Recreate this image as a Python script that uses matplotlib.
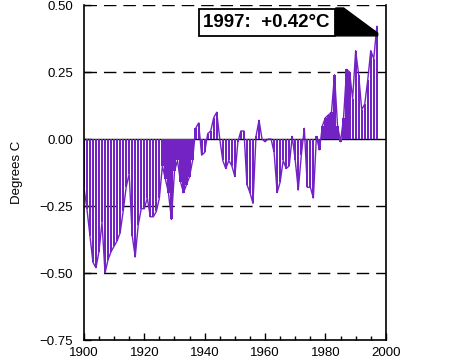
import matplotlib.pyplot as plt
from matplotlib.patches import Polygon
from matplotlib.ticker import MultipleLocator

# annual temperature anomaly (deg C)
years = list(range(1900, 1998))
anomaly = [
    -0.18, -0.26, -0.36, -0.46, -0.48, -0.42, -0.31, -0.50, -0.45, -0.42,  # 1900s
    -0.40, -0.38, -0.35, -0.27, -0.18, -0.13, -0.36, -0.44, -0.32, -0.26,  # 1910s
    -0.26, -0.22, -0.29, -0.29, -0.27, -0.22, -0.10, -0.15, -0.20, -0.30,  # 1920s
    -0.12, -0.08, -0.16, -0.20, -0.17, -0.14, -0.08, 0.04, 0.06, -0.06,    # 1930s
    -0.05, 0.02, 0.03, 0.08, 0.10, 0.00, -0.08, -0.11, -0.08, -0.10,       # 1940s
    -0.14, -0.01, 0.03, 0.03, -0.17, -0.20, -0.24, 0.01, 0.07, 0.00,       # 1950s
    -0.01, 0.00, 0.00, -0.05, -0.20, -0.16, -0.08, -0.11, -0.10, 0.01,     # 1960s
    -0.08, -0.19, -0.06, 0.04, -0.18, -0.18, -0.22, 0.01, -0.04, 0.05,     # 1970s
    0.08, 0.09, 0.10, 0.24, 0.05, -0.01, 0.08, 0.26, 0.25, 0.15,           # 1980s
    0.33, 0.24, 0.11, 0.13, 0.22, 0.33, 0.30, 0.42,                        # 1990s
]
grid_levels = [0.5, 0.25, -0.25, -0.5]
label_text = "1997:  +0.42\u00b0C"

purple = "#7322c4"

plt.rcParams['font.family'] = ['Liberation Sans', 'DejaVu Sans']
fig = plt.figure(figsize=(4.66, 3.61), dpi=100)
ax = fig.add_axes([0.180, 0.058, 0.648, 0.928])

ax.bar(years, anomaly, width=0.74, color=purple, linewidth=0, zorder=2)
ax.plot(years, anomaly, color=purple, lw=1.0, zorder=2)

for g in grid_levels:
    ax.axhline(g, color="black", lw=1.0, dashes=(9, 5), zorder=1)
ax.axhline(0, color="black", lw=1.0, zorder=1)

ax.set_xlim(1900, 2000)
ax.set_ylim(-0.75, 0.5)
ax.xaxis.set_major_locator(MultipleLocator(20))
ax.xaxis.set_minor_locator(MultipleLocator(5))
ax.yaxis.set_major_locator(MultipleLocator(0.25))
ax.yaxis.set_major_formatter(plt.FuncFormatter(lambda v, p: f"{v:.2f}".replace("-", "\u2212")))
ax.tick_params(axis="x", which="major", direction="in", length=5, width=1, labelsize=9.5, pad=5)
ax.tick_params(axis="x", which="minor", direction="in", length=3, width=1)
ax.tick_params(axis="y", direction="in", length=5, width=1, labelsize=9.5, pad=8)
ax.spines["top"].set_visible(False)
for s in ["left", "right", "bottom"]:
    ax.spines[s].set_linewidth(1.2)
ax.set_ylabel("Degrees C", fontsize=9.5, labelpad=12)

# callout box with pointer to the last bar
ax.text(1960.5, 0.435, label_text, fontsize=13.5, fontweight="bold", ha="center", va="center",
        bbox=dict(boxstyle="square,pad=0.25", fc="white", ec="black", lw=1.3), zorder=5)
ax.add_patch(Polygon([(1983.4, 0.489), (1986.0, 0.489), (1997.3, 0.395), (1997.3, 0.385), (1983.4, 0.385)],
                     closed=True, fc="black", ec="black", zorder=4))

fig.savefig("out.png", dpi=100)
